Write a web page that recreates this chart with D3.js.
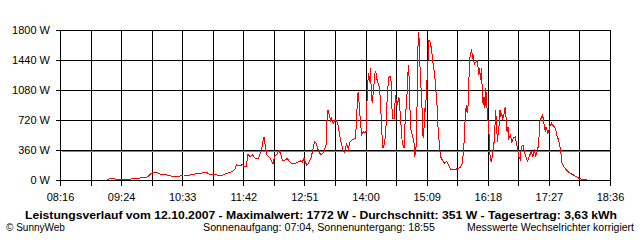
<!DOCTYPE html>
<html>
<head>
<meta charset="utf-8">
<script src="https://cdn.jsdelivr.net/npm/d3@7"></script>
<style>
  html, body { margin: 0; padding: 0; background: #ffffff; }
  svg { display: block; }
  text { font-family: "Liberation Sans", Arial, sans-serif; fill: #000; }
</style>
</head>
<body>
<svg id="chart" width="640" height="240"></svg>
<script>
// ---- data (time in minutes after midnight, power in W) ----
const times = [549,555,560,576,577,586,587,594,599,601,606,609,614,618,624,631,635,641,646,654,661,665,671,674,680,684,690,693,695,699,702,703,706,708,
710,713,716,720,721,723,725,726,727,729,733,736,738,741,743,745,747,750,752,755,758,763,767,769,771,774,776,779,781,783,785,787,790,793,796,797,798,800,801,802,804,806,807,809,811,813,815,817,819,821,823,825,829,
830,831,832,833,834,835,836,838,840,841,842,843,844,845,846,847,848,850,851,852,853,855,856,857,859,860,862,864,865,867,869,870,871,873,874,876,877,878,880,881,882,884,885,887,888,889,890,891,892,894,895,896,898,899,900,901,902,904,905,906,907,908,909,910,912,913,914,916,917,918,919,921,922,924,925,927,929,932,934,936,
938,943,947,949,951,952,953,954,955,956,957,958,959,960,961,962,963,965,966,967,968,969,970,971,972,973,974,975,976,977,978,979,980,981,982,983,985,986,987,988,989,991,992,993,994,995,996,998,999,1000,1001,1002,1004,1005,1007,1009,1011,1012,1013,1015,1016,1018,1019,1021,1023,1025,1027,1029,1031,1032,1034,1035,1036,1037,1039,1040,1041,1043,1044,1046,1047,1048,1050,1051,1053,1055,1056,1058,1060,1062,1064,1067,1071,1075,1078,1081,1084,1090];
const watts = [8,20,8,8,20,20,32,32,80,88,88,72,72,56,40,48,60,56,68,80,92,68,72,52,60,80,100,128,180,172,188,166,166,312,
280,300,260,260,300,340,480,512,440,300,260,192,280,320,360,300,232,240,260,220,192,208,228,212,260,180,196,268,360,460,440,360,300,328,420,720,840,768,700,740,680,712,720,680,560,440,360,328,440,368,460,480,500,
660,900,1060,940,800,660,540,580,570,580,920,1180,1280,1180,1340,1020,920,1160,1280,1300,1220,1140,1120,980,540,380,440,720,1060,1240,1240,900,740,740,1020,900,940,1000,740,540,440,380,700,980,1260,1380,1060,660,580,500,460,280,460,1380,1772,1680,1300,900,540,500,860,820,1060,1260,1680,1660,1620,1460,1340,1300,1180,900,660,380,280,240,200,220,180,132,
120,132,148,180,340,580,780,900,800,900,1220,1460,1520,1572,1460,1480,1388,1420,1440,1380,1260,1340,1200,1340,1080,900,1000,860,1100,940,720,720,440,260,220,260,420,540,840,700,460,660,840,760,800,740,760,880,720,580,640,500,540,440,500,520,420,360,280,240,400,420,360,280,228,280,340,280,372,280,340,400,520,700,760,780,720,580,640,560,580,640,680,660,640,600,540,480,380,200,160,120,80,60,40,20,8,8];
const yTicks = [0, 360, 720, 1080, 1440, 1800];
const xStart = 496;   // 08:16
const xEnd = 1116;    // 18:36
const xIntervals = 18;
const average = 351;
const titleText = "Leistungsverlauf vom 12.10.2007 - Maximalwert: 1772 W - Durchschnitt: 351 W - Tagesertrag: 3,63 kWh";
const footLeft = "\u00A9 SunnyWeb";
const footMid = "Sonnenaufgang: 07:04, Sonnenuntergang: 18:55";
const footRight = "Messwerte Wechselrichter korrigiert";

// ---- drawing ----
const svg = d3.select("#chart");
const L = 60, R = 610, T = 30, B = 180;
const x = d3.scaleLinear().domain([xStart, xEnd]).range([L, R]);
const y = d3.scaleLinear().domain([0, 1800]).range([B, T]);
const xTicks = d3.range(xIntervals + 1).map(i => xStart + i * (xEnd - xStart) / xIntervals);
const fmt = m => { const mm = Math.floor(m + 1e-6); const h = Math.floor(mm / 60), n = mm % 60; return String(h).padStart(2, "0") + ":" + String(n).padStart(2, "0"); };
const px = v => Math.round(v) + 0.5;

const grid = svg.append("g").attr("shape-rendering", "crispEdges").attr("stroke", "#000").attr("stroke-width", 1);
grid.selectAll("line.v").data(xTicks).join("line")
  .attr("x1", d => px(x(d))).attr("x2", d => px(x(d)))
  .attr("y1", px(T)).attr("y2", px(B) + 5);
grid.selectAll("line.h").data(yTicks).join("line")
  .attr("x1", px(L) - 5).attr("x2", px(R))
  .attr("y1", d => px(y(d))).attr("y2", d => px(y(d)));

// average line
svg.append("line").attr("shape-rendering", "crispEdges")
  .attr("x1", px(L) + 1).attr("x2", px(R) - 1)
  .attr("y1", px(y(average))).attr("y2", px(y(average)))
  .attr("stroke", "#808080").attr("stroke-width", 1);

// axis labels via d3 axes (tick lines drawn with the grid)
const yAxis = svg.append("g").attr("transform", `translate(${L},0)`)
  .call(d3.axisLeft(y).tickValues(yTicks).tickSize(0).tickPadding(10).tickFormat(d => d + " W"));
yAxis.select(".domain").remove();
yAxis.selectAll("text").attr("font-size", 11).attr("font-family", "Liberation Sans, Arial, sans-serif").attr("fill", "#000");

const xAxis = svg.append("g").attr("transform", `translate(0,${B})`)
  .call(d3.axisBottom(x).tickValues(xTicks.filter((d, i) => i % 2 === 0)).tickSize(0).tickPadding(13).tickFormat(fmt));
xAxis.select(".domain").remove();
xAxis.selectAll("text").attr("font-size", 11).attr("font-family", "Liberation Sans, Arial, sans-serif").attr("fill", "#000");

// data line
const line = d3.line().x((d, i) => x(times[i])).y(d => y(d));
svg.append("path").datum(watts)
  .attr("d", line)
  .attr("fill", "none").attr("stroke", "#ff0000").attr("stroke-width", 1)
  .attr("shape-rendering", "crispEdges");

// texts
svg.append("text").attr("x", 25).attr("y", 219).attr("font-size", 11.5).attr("font-weight", "bold")
  .attr("textLength", 592).attr("lengthAdjust", "spacingAndGlyphs").text(titleText);
svg.append("text").attr("x", 6).attr("y", 231).attr("font-size", 10).text(footLeft);
svg.append("text").attr("x", 203).attr("y", 231).attr("font-size", 10)
  .attr("textLength", 232).attr("lengthAdjust", "spacingAndGlyphs").text(footMid);
svg.append("text").attr("x", 467).attr("y", 231).attr("font-size", 10)
  .attr("textLength", 167).attr("lengthAdjust", "spacingAndGlyphs").text(footRight);
</script>
</body>
</html>
